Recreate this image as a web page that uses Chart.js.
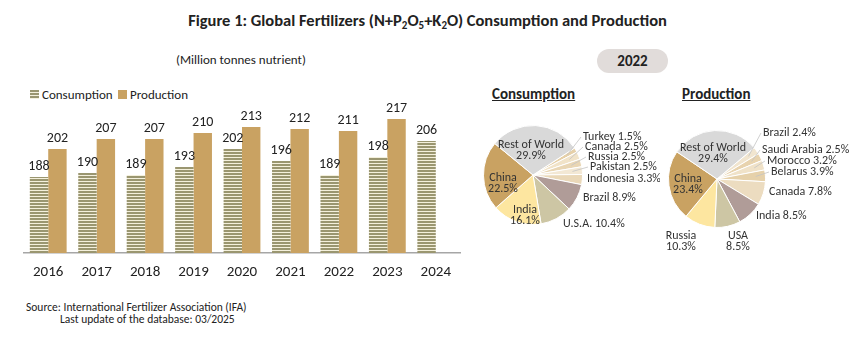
<!DOCTYPE html>
<html>
<head>
<meta charset="utf-8">
<script src="https://cdn.jsdelivr.net/npm/chart.js@4.4.1/dist/chart.umd.min.js"></script>
<style>
  body { margin: 0; width: 855px; height: 338px; background: #fff; position: relative; overflow: hidden;
         font-family: Carlito, Calibri, Lato, sans-serif; color: #222; }
  .abs { position: absolute; white-space: nowrap; }
  #title { left: 0; width: 855px; top: 10px; text-align: center; font-weight: bold; font-size: 16.5px; }
  #title sub { font-size: 11px; vertical-align: -3px; line-height: 0; }
  #unit { left: 176px; top: 52px; font-size: 13px; }
  #year { left: 597px; top: 49px; width: 71px; height: 24px; line-height: 24px; border-radius: 12px;
          background: #e1dcda; text-align: center; font-weight: bold; font-size: 15px; }
  .legend { top: 88px; font-size: 13px; line-height: 14px; }
  .legend i { display: inline-block; width: 9px; height: 9px; margin-right: 3px; vertical-align: 0px; }
  #lg1 { left: 30px; }
  #lg1 i { background: repeating-linear-gradient(#9a9670 0 2px, #f4f0dc 2px 3px); }
  #lg2 { left: 118px; }
  #lg2 i { background: #c9a262; }
  .ptitle { top: 85px; font-weight: bold; font-size: 15px; text-decoration: underline; }
  #pt1 { left: 492px; }
  #pt2 { left: 682px; }
  #src { left: 26px; top: 301px; font-size: 11.5px; line-height: 12px; }
  #src span { display: block; padding-left: 34px; }
  #barBox { left: 0; top: 92px; width: 470px; height: 205px; }
  #pie1Box { left: 470px; top: 110px; width: 190px; height: 150px; }
  #pie2Box { left: 660px; top: 110px; width: 195px; height: 150px; }
</style>
</head>
<body>
<div id="title" class="abs">Figure 1: Global Fertilizers (N+P<sub>2</sub>O<sub>5</sub>+K<sub>2</sub>O) Consumption and Production</div>
<div id="unit" class="abs">(Million tonnes nutrient)</div>
<div id="year" class="abs">2022</div>
<div id="lg1" class="abs legend"><i></i>Consumption</div>
<div id="lg2" class="abs legend"><i></i>Production</div>
<div id="pt1" class="abs ptitle">Consumption</div>
<div id="pt2" class="abs ptitle">Production</div>
<div id="src" class="abs">Source: International Fertilizer Association (IFA)<span>Last update of the database: 03/2025</span></div>

<div id="barBox" class="abs"><canvas id="barChart"></canvas></div>
<div id="pie1Box" class="abs"><canvas id="pie1"></canvas></div>
<div id="pie2Box" class="abs"><canvas id="pie2"></canvas></div>

<script>
const years = ['2016', '2017', '2018', '2019', '2020', '2021', '2022', '2023', '2024'];
const consumption = [188, 190, 189, 193, 202, 196, 189, 198, 206];
const production = [202, 207, 207, 210, 213, 212, 211, 217, null];

const consCountries = ['Turkey', 'Canada', 'Russia', 'Pakistan', 'Indonesia', 'Brazil', 'U.S.A.', 'India', 'China', 'Rest of World'];
const consShares = [1.5, 2.5, 2.5, 2.5, 3.3, 8.9, 10.4, 16.1, 22.5, 29.9];

const prodCountries = ['Brazil', 'Saudi Arabia', 'Morocco', 'Belarus', 'Canada', 'India', 'USA', 'Russia', 'China', 'Rest of World'];
const prodShares = [2.4, 2.5, 3.2, 3.9, 7.8, 8.5, 8.5, 10.3, 23.4, 29.4];

const FONT = 'Carlito, Calibri, Lato, sans-serif';

// striped fill for consumption bars
function stripePattern() {
  const c = document.createElement('canvas');
  c.width = 4; c.height = 3;
  const x = c.getContext('2d');
  x.fillStyle = '#f4f0dc';
  x.fillRect(0, 0, 4, 3);
  x.fillStyle = '#9a9670';
  x.fillRect(0, 0, 4, 2);
  return x.createPattern(c, 'repeat');
}

const barLabels = {
  id: 'barLabels',
  afterDatasetsDraw(chart) {
    const ctx = chart.ctx;
    ctx.save();
    ctx.font = '14px ' + FONT;
    ctx.fillStyle = '#222';
    ctx.textAlign = 'center';
    ctx.textBaseline = 'bottom';
    chart.data.datasets.forEach((ds, i) => {
      chart.getDatasetMeta(i).data.forEach((bar, j) => {
        if (ds.data[j] == null) return;
        ctx.fillText(ds.data[j], bar.x, bar.y - 4);
      });
    });
    ctx.restore();
  }
};

new Chart(document.getElementById('barChart'), {
  type: 'bar',
  data: {
    labels: years,
    datasets: [
      { label: 'Consumption', data: consumption, backgroundColor: stripePattern() },
      { label: 'Production', data: production, backgroundColor: '#c9a262' }
    ]
  },
  options: {
    responsive: true,
    maintainAspectRatio: false,
    animation: false,
    layout: { padding: { left: 24, right: 10, top: 11, bottom: 6 } },
    categoryPercentage: 0.76,
    barPercentage: 1,
    plugins: { legend: { display: false }, tooltip: { enabled: false } },
    scales: {
      x: {
        grid: { display: false, drawTicks: false },
        border: { display: true, color: '#a6a6a6', width: 1.5 },
        ticks: { color: '#222', font: { family: FONT, size: 15 }, padding: 10 }
      },
      y: { display: false, min: 150, max: 225 }
    }
  },
  plugins: [barLabels]
});

// label placement for the pies: offset from pie centre, alignment, leader line
const consLayout = [
  { dx: 50, dy: -38, align: 'left', lead: true },
  { dx: 52, dy: -28, align: 'left', lead: true },
  { dx: 55, dy: -18, align: 'left', lead: true },
  { dx: 57, dy: -8, align: 'left', lead: true },
  { dx: 54, dy: 4, align: 'left', lead: false },
  { dx: 50, dy: 23, align: 'left', lead: false },
  { dx: 30, dy: 49, align: 'left', lead: false },
  { dx: -8, dy: 35, align: 'center', two: true },
  { dx: -30, dy: 3, align: 'center', two: true },
  { dx: -2, dy: -30, align: 'center', two: true }
];
const prodLayout = [
  { dx: 46, dy: -46, align: 'left', lead: true },
  { dx: 45, dy: -29, align: 'left', lead: true },
  { dx: 50, dy: -18, align: 'left', lead: true },
  { dx: 54, dy: -7, align: 'left', lead: true },
  { dx: 52, dy: 13, align: 'left', lead: false },
  { dx: 39, dy: 37, align: 'left', lead: false },
  { dx: 21, dy: 57, align: 'center', two: true },
  { dx: -36, dy: 57, align: 'center', two: true },
  { dx: -29, dy: 0, align: 'center', two: true },
  { dx: -4, dy: -31, align: 'center', two: true }
];

function pieLabels(layout) {
  return {
    id: 'pieLabels',
    afterDatasetsDraw(chart) {
      const ctx = chart.ctx;
      const names = chart.data.labels;
      const vals = chart.data.datasets[0].data;
      ctx.save();
      ctx.font = '12px ' + FONT;
      ctx.fillStyle = '#333';
      ctx.textBaseline = 'middle';
      chart.getDatasetMeta(0).data.forEach((arc, i) => {
        const l = layout[i];
        const lx = arc.x + l.dx, ly = arc.y + l.dy;
        const txt = vals[i].toFixed(1) + '%';
        ctx.textAlign = l.align;
        if (l.two) {
          ctx.fillText(names[i], lx, ly);
          ctx.fillText(txt, lx, ly + 11);
        } else {
          ctx.fillText(names[i] + ' ' + txt, lx, ly);
        }
        if (l.lead) {
          const a = (arc.startAngle + arc.endAngle) / 2;
          const r = arc.outerRadius * 0.8;
          ctx.strokeStyle = '#c4c4c4';
          ctx.lineWidth = 0.8;
          ctx.beginPath();
          ctx.moveTo(arc.x + Math.cos(a) * r, arc.y + Math.sin(a) * r);
          ctx.lineTo(lx - 2, ly);
          ctx.stroke();
        }
      });
      ctx.restore();
    }
  };
}

function makePie(id, names, shares, colors, rotation, pad, layout) {
  new Chart(document.getElementById(id), {
    type: 'pie',
    data: {
      labels: names,
      datasets: [{ data: shares, backgroundColor: colors, borderColor: '#fff', borderWidth: 1 }]
    },
    options: {
      responsive: true,
      maintainAspectRatio: false,
      animation: false,
      rotation: rotation,
      layout: { padding: pad },
      plugins: { legend: { display: false }, tooltip: { enabled: false } }
    },
    plugins: [pieLabels(layout)]
  });
}

makePie('pie1', consCountries, consShares,
  ['#e6d0a8', '#f1e3c8', '#e9d6b4', '#f3e8d4', '#ead8b8', '#b09c98', '#cdc6a4', '#fde6a0', '#c9a262', '#d9d9d9'],
  57, { left: 13, top: 15, right: 77, bottom: 35 }, consLayout);

makePie('pie2', prodCountries, prodShares,
  ['#f1e5cf', '#e8d3ae', '#f0e2c8', '#e6d1aa', '#ecdcc0', '#b09c98', '#cdc6a4', '#fde6a0', '#c9a262', '#d9d9d9'],
  50, { left: 8, top: 20, right: 89, bottom: 32 }, prodLayout);
</script>
</body>
</html>
